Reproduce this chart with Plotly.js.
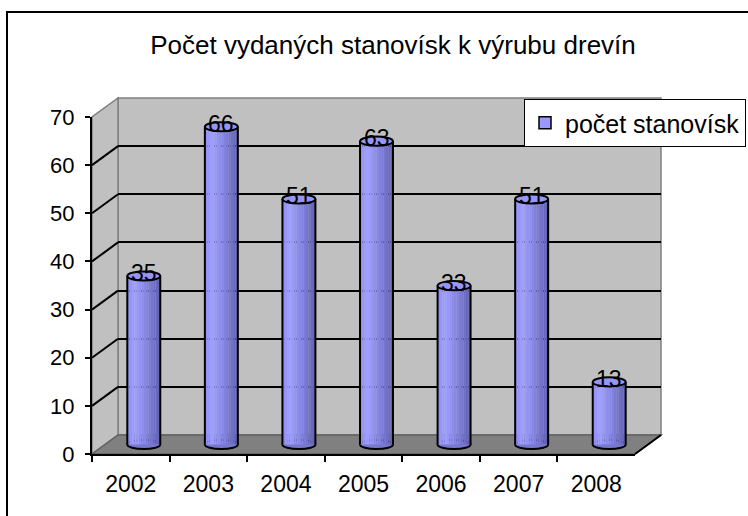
<!DOCTYPE html>
<html>
<head>
<meta charset="utf-8">
<script src="https://cdn.plot.ly/plotly-3.0.1.min.js"></script>
<style>html,body{margin:0;padding:0;background:#fff;}#chart{width:748px;height:516px;}</style>
</head>
<body>
<div id="chart"></div>
<script>
// ---- data ----
const chartTitle = 'Počet vydaných stanovísk k výrubu drevín';
const seriesName = 'počet stanovísk';
const categories = ['2002', '2003', '2004', '2005', '2006', '2007', '2008'];
const values = [35, 66, 51, 63, 33, 51, 13];
const yTickVals = [0, 10, 20, 30, 40, 50, 60, 70];
const backGridVals = [10, 20, 30, 40, 50, 60];

// ---- geometry (pixels) ----
const W = 748, H = 516;
const FX0 = 92, FX1 = 635, FY0 = 454, FYTOP = 117, YMAX = 70;
const U = (FY0 - FYTOP) / YMAX;
const DX = 26, DY = 19;
const px = x => x / W;
const py = y => 1 - y / H;

const FONT = '"Liberation Sans", Arial, sans-serif';

// mid-plane axis range
const MID_LO = -3, MID_HI = 72;
const midY0 = FY0 - DY / 2;

const hw = 0.2125;   // half cylinder width (category units)
const eh = 0.95;     // ellipse half height (value units)

// gradient for cylinder body
const stops = [[0, [140, 140, 242]], [0.22, [160, 160, 255]], [0.6, [130, 130, 224]], [1, [96, 96, 175]]];
function gradColor(t) {
  for (let i = 0; i < stops.length - 1; i++) {
    const [t0, c0] = stops[i], [t1, c1] = stops[i + 1];
    if (t >= t0 && t <= t1) {
      const f = (t - t0) / (t1 - t0);
      const c = c0.map((v, k) => Math.round(v + (c1[k] - v) * f));
      return 'rgb(' + c.join(',') + ')';
    }
  }
  return 'rgb(96,96,175)';
}

const traces = [];
// dummy on back plane to create subplot
traces.push({type: 'scatter', x: [0], y: [null], xaxis: 'x', yaxis: 'y', showlegend: false, hoverinfo: 'skip', mode: 'markers'});
// legend entry
traces.push({type: 'bar', x: [null], y: [null], xaxis: 'x2', yaxis: 'y2', name: seriesName,
  marker: {color: '#9999FF', line: {color: '#000', width: 1.5}}, showlegend: true, hoverinfo: 'skip'});
// cylinder body strips
const N = 14;
const sw = 2 * hw / N;
for (let k = 0; k < N; k++) {
  traces.push({type: 'bar', x: categories, y: values, xaxis: 'x2', yaxis: 'y2',
    width: sw * 1.04, offset: -hw + k * sw, marker: {color: gradColor((k + 0.5) / N), line: {width: 0}},
    showlegend: false, hoverinfo: 'skip'});
}
// front plane dummy (registers categories on front axis)
traces.push({type: 'scatter', x: categories, y: values, xaxis: 'x3', yaxis: 'y3', mode: 'markers',
  marker: {opacity: 0}, showlegend: false, hoverinfo: 'skip'});

// ---- shapes ----
const shapes = [];
const bx0 = FX0 + DX, bx1 = FX1 + DX, byTop = FYTOP - DY, byBot = FY0 - DY;
const P = (x, y) => px(x) + ',' + py(y);
// outer border
shapes.push({type: 'rect', xref: 'paper', yref: 'paper', x0: px(7), y0: py(12), x1: 1.2, y1: -0.2,
  line: {color: '#000', width: 2}, fillcolor: 'rgba(0,0,0,0)', layer: 'below'});
// back wall
shapes.push({type: 'rect', xref: 'paper', yref: 'paper', x0: px(bx0), x1: px(bx1), y0: py(byBot), y1: py(byTop),
  fillcolor: '#C0C0C0', line: {color: '#808080', width: 1.5}, layer: 'below'});
// left wall
shapes.push({type: 'path', xref: 'paper', yref: 'paper', layer: 'below',
  path: 'M' + P(FX0, FY0) + 'L' + P(FX0, FYTOP) + 'L' + P(bx0, byTop) + 'L' + P(bx0, byBot) + 'Z',
  fillcolor: '#C0C0C0', line: {color: '#808080', width: 1.5}});
// floor
shapes.push({type: 'path', xref: 'paper', yref: 'paper', layer: 'below',
  path: 'M' + P(FX0, FY0) + 'L' + P(FX1, FY0) + 'L' + P(bx1, byBot) + 'L' + P(bx0, byBot) + 'Z',
  fillcolor: '#808080', line: {color: '#606060', width: 1.5}});
// floor right edge
shapes.push({type: 'line', xref: 'paper', yref: 'paper', layer: 'below',
  x0: px(FX1), y0: py(FY0), x1: px(bx1), y1: py(byBot), line: {color: '#000', width: 2}});
// left wall diagonals
backGridVals.forEach(v => {
  const yf = FY0 - v * U;
  shapes.push({type: 'line', xref: 'paper', yref: 'paper', layer: 'below',
    x0: px(FX0), y0: py(yf), x1: px(bx0), y1: py(yf - DY), line: {color: '#000', width: 2}});
});
// cylinders
values.forEach((v, i) => {
  shapes.push({type: 'circle', xref: 'x2', yref: 'y2', layer: 'below',
    x0: i - hw, x1: i + hw, y0: -eh, y1: eh, fillcolor: 'rgb(120,120,208)', line: {color: '#000', width: 2}});
  shapes.push({type: 'line', xref: 'x2', yref: 'y2', layer: 'above',
    x0: i - hw, x1: i - hw, y0: 0, y1: v, line: {color: '#000', width: 2}});
  shapes.push({type: 'line', xref: 'x2', yref: 'y2', layer: 'above',
    x0: i + hw, x1: i + hw, y0: 0, y1: v, line: {color: '#000', width: 2}});
  shapes.push({type: 'circle', xref: 'x2', yref: 'y2', layer: 'above',
    x0: i - hw, x1: i + hw, y0: v - eh, y1: v + eh, fillcolor: 'rgb(150,150,248)', line: {color: '#000', width: 2}});
});

// ---- annotations (data labels) ----
const annotations = values.map((v, i) => ({
  xref: 'x2', yref: 'y2', x: i, y: v, text: String(v), showarrow: false,
  font: {family: FONT, size: 23, color: '#000'}, yanchor: 'middle', xanchor: 'center', yshift: 3
}));

const hidden = {showgrid: false, zeroline: false, showline: false, showticklabels: false, ticks: ''};

const layout = {
  width: W, height: H,
  margin: {l: 0, r: 0, t: 0, b: 0, pad: 0},
  paper_bgcolor: '#fff', plot_bgcolor: 'rgba(0,0,0,0)',
  font: {family: FONT, size: 22, color: '#000'},
  title: {text: chartTitle, font: {family: FONT, size: 26, color: '#000'}, x: px(393), xanchor: 'center', y: py(45), yanchor: 'middle'},
  barmode: 'overlay',
  showlegend: true,
  legend: {x: px(524), y: py(99), xanchor: 'left', yanchor: 'top', bgcolor: '#fff', bordercolor: '#000', borderwidth: 1,
    font: {family: FONT, size: 25, color: '#000'}},
  // back plane
  xaxis: Object.assign({domain: [px(bx0), px(bx1)], range: [0, 1], anchor: 'y'}, hidden),
  yaxis: {domain: [py(byBot), py(byTop)], range: [0, YMAX], anchor: 'x', tickmode: 'array', tickvals: backGridVals,
    showgrid: true, gridcolor: '#000', gridwidth: 2, zeroline: false, showline: false, showticklabels: false, ticks: ''},
  // mid plane
  xaxis2: Object.assign({domain: [px(FX0 + DX / 2), px(FX1 + DX / 2)], type: 'category', range: [-0.5, categories.length - 0.5], anchor: 'y2'}, hidden),
  yaxis2: Object.assign({domain: [py(midY0 - MID_LO * U), py(midY0 - MID_HI * U)], range: [MID_LO, MID_HI], anchor: 'x2'}, hidden),
  // front plane
  xaxis3: {domain: [px(FX0), px(FX1)], type: 'category', range: [-0.5, categories.length - 0.5], anchor: 'y3',
    tickson: 'boundaries', ticks: 'outside', ticklen: 6, tickwidth: 2, tickcolor: '#000',
    showline: true, linecolor: '#000', linewidth: 2, showgrid: false, zeroline: false,
    tickfont: {family: FONT, size: 23, color: '#000'}, ticklabelstandoff: 8},
  yaxis3: {domain: [py(FY0), py(FYTOP)], range: [0, YMAX], anchor: 'x3', tickmode: 'array', tickvals: yTickVals,
    ticks: 'outside', ticklen: 5, tickwidth: 2, tickcolor: '#000', showline: true, linecolor: '#000', linewidth: 2,
    showgrid: false, zeroline: false, tickfont: {family: FONT, size: 22, color: '#000'}, ticklabelstandoff: 6},
  shapes: shapes,
  annotations: annotations
};

Plotly.newPlot('chart', traces, layout, {displayModeBar: false, staticPlot: true});
</script>
</body>
</html>
